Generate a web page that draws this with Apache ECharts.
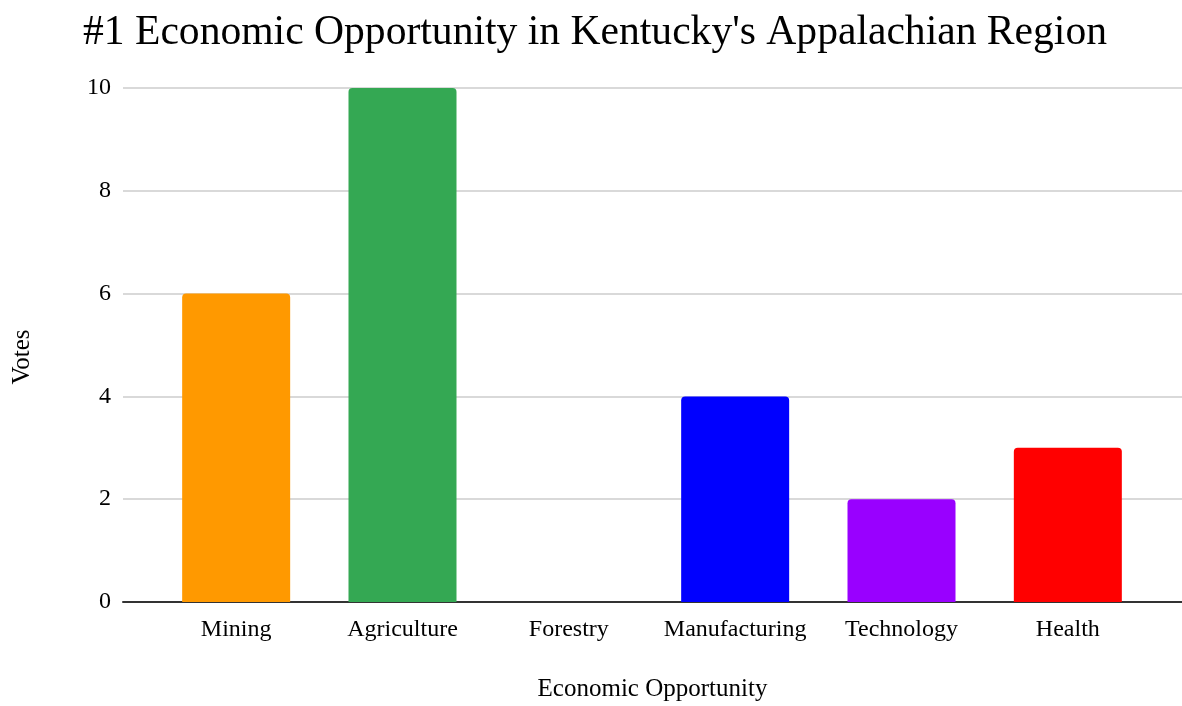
<!DOCTYPE html>
<html>
<head>
<meta charset="utf-8">
<script src="https://cdn.jsdelivr.net/npm/echarts@6/dist/echarts.min.js"></script>
<style>
  html, body { margin: 0; padding: 0; background: #fff; }
  #chart { width: 1182px; height: 706px; }
</style>
</head>
<body>
<div id="chart"></div>
<script>
const categories = ['Mining', 'Agriculture', 'Forestry', 'Manufacturing', 'Technology', 'Health'];
const votes = [6, 10, 0, 4, 2, 3];
const barColors = ['#ff9900', '#34a853', '#4285f4', '#0000ff', '#9900ff', '#ff0000'];
const yTicks = [0, 2, 4, 6, 8, 10];

const FONT = '"Liberation Serif", "Times New Roman", serif';
const TOP = 88, BOTTOM = 104;

const chart = echarts.init(document.getElementById('chart'), null, { renderer: 'canvas' });

chart.setOption({
  backgroundColor: '#ffffff',
  animation: false,
  title: {
    text: "#1 Economic Opportunity in Kentucky's Appalachian Region",
    left: 78,
    top: 7,
    textStyle: { fontFamily: FONT, fontSize: 41.6, fontWeight: 'normal', color: '#000' }
  },
  graphic: [{
    type: 'text',
    x: 22,
    y: 357,
    rotation: Math.PI / 2,
    style: {
      text: 'Votes',
      font: '25px ' + FONT,
      fill: '#000',
      align: 'center',
      verticalAlign: 'middle'
    }
  }],
  grid: [
    // full-width frame: gridlines, tick labels, baseline
    { left: 123, right: 0, top: TOP, bottom: BOTTOM, containLabel: false, outerBoundsMode: 'none' },
    // bar area
    { left: 153, right: 31, top: TOP, bottom: BOTTOM, containLabel: false, outerBoundsMode: 'none' }
  ],
  xAxis: [
    {
      gridIndex: 0,
      type: 'category',
      data: [''],
      name: 'Economic Opportunity',
      nameLocation: 'middle',
      nameGap: 75,
      nameTextStyle: { fontFamily: FONT, fontSize: 25, color: '#000' },
      axisLine: { show: true, lineStyle: { color: '#333', width: 2 } },
      axisTick: { show: false },
      axisLabel: { show: false }
    },
    {
      gridIndex: 1,
      type: 'category',
      data: categories,
      axisLine: { show: false },
      axisTick: { show: false },
      axisLabel: { margin: 16, fontFamily: FONT, fontSize: 24, color: '#000', interval: 0 }
    }
  ],
  yAxis: [
    {
      gridIndex: 0,
      type: 'value',
      min: yTicks[0],
      max: yTicks[yTicks.length - 1],
      interval: 2,
      axisLine: { show: false },
      axisTick: { show: false },
      axisLabel: { margin: 12, fontFamily: FONT, fontSize: 24, color: '#000' },
      splitLine: { lineStyle: { color: '#cccccc', width: 1.5 } }
    },
    {
      gridIndex: 1,
      type: 'value',
      min: yTicks[0],
      max: yTicks[yTicks.length - 1],
      interval: 2,
      show: false,
      splitLine: { show: false }
    }
  ],
  series: [{
    type: 'bar',
    xAxisIndex: 1,
    yAxisIndex: 1,
    barWidth: 108,
    data: votes.map((v, i) => ({
      value: v,
      itemStyle: { color: barColors[i], borderRadius: [4, 4, 0, 0] }
    })),
    z: 3
  }]
});
</script>
</body>
</html>
